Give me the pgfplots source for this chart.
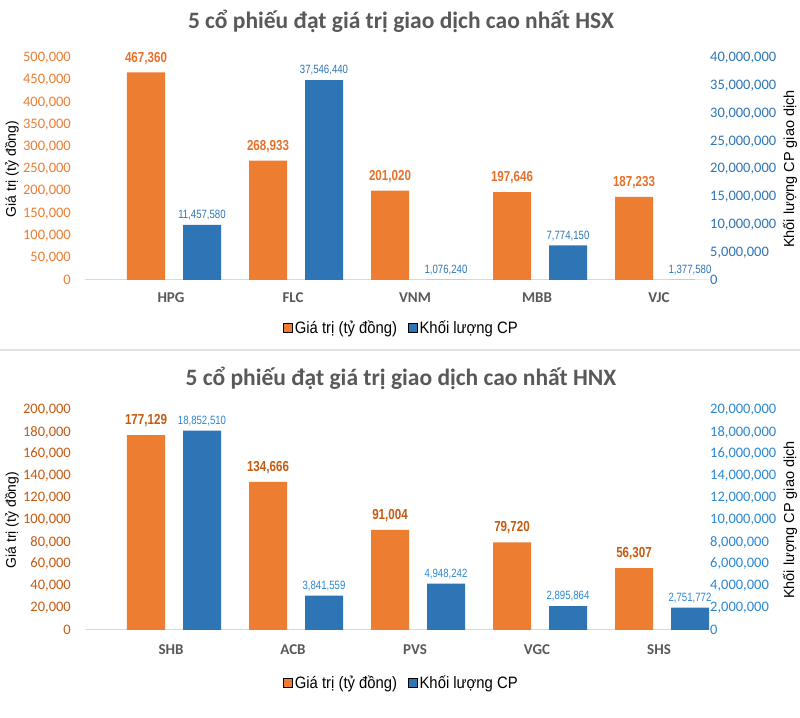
\documentclass[border=0pt]{standalone}
\usepackage{fontspec}
\setmainfont{Carlito}
\newfontfamily\arialf{Liberation Sans}
\newfontfamily\narrowf[FakeStretch=0.8]{Liberation Sans}
\newfontfamily\legf[FakeStretch=0.9]{Liberation Sans}
\usepackage{pgfplots}
\pgfplotsset{compat=1.18}
\usepackage{pgfplotstable}

\definecolor{cOr}{HTML}{ED7D31}
\definecolor{cBl}{HTML}{2E75B6}
\definecolor{cGr}{HTML}{595959}
\definecolor{cAxis}{HTML}{D9D9D9}
\definecolor{cSep}{HTML}{E2E2E2}
\definecolor{cOrLabA}{HTML}{E8702A}
\definecolor{cOrDark}{HTML}{C55A11}
\definecolor{cBlB}{HTML}{2B87D3}

\pgfplotstableread{
x v lab
0 467360 467,360
1 268933 268,933
2 201020 201,020
3 197646 197,646
4 187233 187,233
}\hsxval
\pgfplotstableread{
x v lab
0.459 11457580 11,457,580
1.459 37546440 37,546,440
2.459 1076240 1,076,240
3.459 7774150 7,774,150
4.459 1377580 1,377,580
}\hsxvol
\pgfplotstableread{
x v lab
0 177129 177,129
1 134666 134,666
2 91004 91,004
3 79720 79,720
4 56307 56,307
}\hnxval
\pgfplotstableread{
x v lab
0.459 18852510 18,852,510
1.459 3841559 3,841,559
2.459 4948242 4,948,242
3.459 2895864 2,895,864
4.459 2751772 2,751,772
}\hnxvol

\pgfplotsset{
  numfmt/.style={scaled y ticks=false,
    /pgf/number format/fixed,
    /pgf/number format/1000 sep={,},
    /pgf/number format/assume math mode=true},
  leftax/.style={numfmt, scale only axis, anchor=south west, width=610bp,
    xmin=-0.5, xmax=4.5,
    axis x line*=bottom, axis y line*=left,
    y axis line style={draw=none},
    x axis line style={draw=cAxis, line width=1bp},
    major tick length=0pt,
    xtick={0.205,1.205,2.205,3.205,4.205},
    xticklabel style={font=\bfseries\fontsize{15bp}{17bp}\selectfont, text=cGr, anchor=center, yshift=-18bp},
    yticklabel style={font=\fontsize{14.5bp}{17bp}\selectfont, inner sep=0pt, anchor=east, xshift=-14bp},
    ylabel={Giá trị (tỷ đồng)},
    ylabel style={font=\arialf\fontsize{14bp}{16bp}\selectfont, at={(axis description cs:-0.1197,0.5)}, anchor=center},
    title style={font=\bfseries\fontsize{23.5bp}{26bp}\selectfont, text=cGr, at={(axis description cs:0.5179,1)}, anchor=center},
    legend style={anchor=center, draw=none, fill=none, legend columns=2,
      font=\legf\fontsize{16.5bp}{18bp}\selectfont,
      /tikz/every even column/.append style={column sep=9bp}},
    legend image code/.code={\fill[##1] (0bp,-4.5bp) rectangle (9bp,4.5bp);},
  },
  rightax/.style={numfmt, scale only axis, anchor=south west, width=610bp,
    xmin=-0.5, xmax=4.5,
    axis y line*=right, hide x axis,
    y axis line style={draw=none},
    major tick length=0pt,
    yticklabel style={font=\fontsize{14.5bp}{17bp}\selectfont, inner sep=0pt, anchor=west, xshift=15bp},
    ylabel={Khối lượng CP giao dịch},
    ylabel style={font=\arialf\fontsize{14.5bp}{16bp}\selectfont, at={(axis description cs:1.1557,0.5)}, anchor=center},
  },
  hidax/.style={scale only axis, anchor=south west, width=671bp, xmin=-0.5, xmax=5, hide axis},
  orbar/.style={ybar, bar shift=0pt, bar width=38bp, fill=cOr, draw=none, forget plot,
    nodes near coords, point meta=explicit symbolic,
    nodes near coords style={font=\narrowf\bfseries\fontsize{14.5bp}{16bp}\selectfont, anchor=south, inner sep=0pt, yshift=8bp}},
  blbar/.style={ybar, bar shift=0pt, bar width=38bp, fill=cBl, draw=none, forget plot,
    nodes near coords, point meta=explicit symbolic,
    nodes near coords style={font=\narrowf\fontsize{12bp}{14bp}\selectfont, anchor=south, inner sep=0pt, yshift=4.5bp}},
}

\begin{document}
\begin{tikzpicture}
\fill[white] (0bp,0bp) rectangle (800bp,718bp);
\useasboundingbox (0bp,0bp) rectangle (800bp,718bp);
\draw[cSep, line width=2.5bp] (0bp,368bp) -- (800bp,368bp);

% ---------------- HSX ----------------
\begin{axis}[leftax, at={(85bp,438bp)}, height=222bp,
  ymin=0, ymax=500000,
  ytick={0,50000,100000,150000,200000,250000,300000,350000,400000,450000,500000},
  yticklabel style={text=cOr},
  xticklabels={HPG,FLC,VNM,MBB,VJC},
  title={5 cổ phiếu đạt giá trị giao dịch cao nhất HSX},
  title style={yshift=31bp},
  legend style={at={(axis description cs:0.519,-0.216)}}]
\addplot[orbar, nodes near coords style={text=cOrLabA}] table[x=x,y=v,meta=lab]{\hsxval};
\addlegendimage{fill=cOr}\addlegendentry{Giá trị (tỷ đồng)}
\addlegendimage{fill=cBl}\addlegendentry{Khối lượng CP}
\end{axis}
\begin{axis}[rightax, at={(85bp,438bp)}, height=222bp,
  ymin=0, ymax=40000000,
  ytick={0,5000000,10000000,15000000,20000000,25000000,30000000,35000000,40000000},
  yticklabel style={text=cBl}]
\addplot[draw=none, forget plot] coordinates {(0,0)};
\end{axis}
\begin{axis}[hidax, at={(85bp,438bp)}, height=222bp, ymin=1530000, ymax=41530000]
\addplot[blbar, nodes near coords style={text=cBl}, y filter/.expression={max(y,1530000)}] table[x=x,y=v,meta=lab]{\hsxvol};
\end{axis}

% ---------------- HNX ----------------
\begin{axis}[leftax, at={(85bp,88bp)}, height=220bp,
  ymin=0, ymax=200000,
  ytick={0,20000,40000,60000,80000,100000,120000,140000,160000,180000,200000},
  yticklabel style={text=cOrDark},
  xticklabels={SHB,ACB,PVS,VGC,SHS},
  xticklabel style={yshift=-2bp},
  title={5 cổ phiếu đạt giá trị giao dịch cao nhất HNX},
  title style={yshift=26bp},
  legend style={at={(axis description cs:0.519,-0.241)}}]
\addplot[orbar, nodes near coords style={text=cOrDark}] table[x=x,y=v,meta=lab]{\hnxval};
\addlegendimage{fill=cOr}\addlegendentry{Giá trị (tỷ đồng)}
\addlegendimage{fill=cBl}\addlegendentry{Khối lượng CP}
\end{axis}
\begin{axis}[rightax, at={(85bp,88bp)}, height=220bp,
  ymin=0, ymax=20000000,
  ytick={0,2000000,4000000,6000000,8000000,10000000,12000000,14000000,16000000,18000000,20000000},
  yticklabel style={text=cBlB}]
\addplot[draw=none, forget plot] coordinates {(0,0)};
\end{axis}
\begin{axis}[hidax, at={(85bp,88bp)}, height=220bp, ymin=727000, ymax=20727000]
\addplot[blbar, nodes near coords style={text=cBlB}, y filter/.expression={max(y,727000)}] table[x=x,y=v,meta=lab]{\hnxvol};
\end{axis}
\end{tikzpicture}
\end{document}
